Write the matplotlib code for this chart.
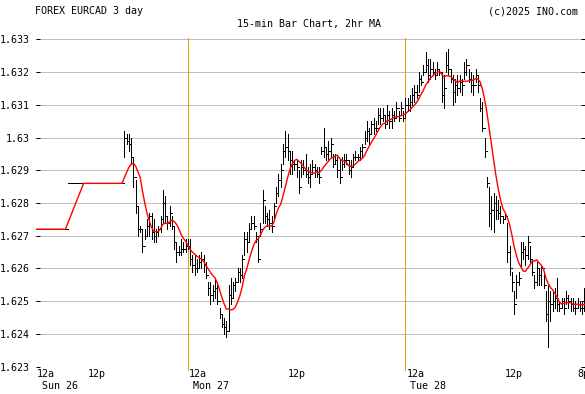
import numpy as np
import pandas as pd
import matplotlib
matplotlib.use("Agg")
import matplotlib.pyplot as plt

# flat quotes carried over before the Sunday session opens (bar 0..38)
lead_close = [1.6272] * 14 + [1.6286] * 25

# 15-min bars from the Sunday open (bar 39) to the right edge (bar 242)
high = [
    1.6302, 1.6301, 1.6301, 1.6300, 1.6294, 1.6287, 1.6279, 1.6273, 1.6272, 1.6272,
    1.6275, 1.6277, 1.6277, 1.6275, 1.6272, 1.6273, 1.6276, 1.6284, 1.6282, 1.6276,
    1.6279, 1.6276, 1.6273, 1.6268, 1.6267, 1.6269, 1.6268, 1.6269, 1.6269, 1.6269,
    1.6264, 1.6264, 1.6263, 1.6264, 1.6265, 1.6264, 1.6262, 1.6256, 1.6256, 1.6255,
    1.6257, 1.6256, 1.6248, 1.6246, 1.6245, 1.6244, 1.6255, 1.6257, 1.6256, 1.6257,
    1.6260, 1.6260, 1.6264, 1.6271, 1.6271, 1.6274, 1.6276, 1.6276, 1.6271, 1.6269,
    1.6274, 1.6284, 1.6279, 1.6277, 1.6278, 1.6276, 1.6280, 1.6285, 1.6289, 1.6292,
    1.6298, 1.6302, 1.6301, 1.6296, 1.6296, 1.6293, 1.6293, 1.6290, 1.6293, 1.6293,
    1.6295, 1.6291, 1.6292, 1.6293, 1.6292, 1.6291, 1.6291, 1.6297, 1.6303, 1.6297,
    1.6299, 1.6300, 1.6295, 1.6295, 1.6294, 1.6293, 1.6294, 1.6295, 1.6295, 1.6293,
    1.6293, 1.6295, 1.6296, 1.6295, 1.6297, 1.6298, 1.6302, 1.6305, 1.6303, 1.6305,
    1.6306, 1.6305, 1.6309, 1.6309, 1.6309, 1.6307, 1.6310, 1.6308, 1.6309, 1.6308,
    1.6311, 1.6308, 1.6311, 1.6308, 1.6312, 1.6312, 1.6313, 1.6315, 1.6316, 1.6316,
    1.6320, 1.6319, 1.6322, 1.6326, 1.6324, 1.6324, 1.6323, 1.6321, 1.6323, 1.6321,
    1.6320, 1.6319, 1.6326, 1.6327, 1.6321, 1.6319, 1.6318, 1.6319, 1.6319, 1.6318,
    1.6323, 1.6324, 1.6321, 1.6320, 1.6319, 1.6321, 1.6319, 1.6312, 1.6311, 1.6300,
    1.6288, 1.6285, 1.6282, 1.6283, 1.6282, 1.6281, 1.6279, 1.6276, 1.6277, 1.6274,
    1.6267, 1.6259, 1.6253, 1.6258, 1.6259, 1.6268, 1.6268, 1.6267, 1.6270, 1.6267,
    1.6263, 1.6258, 1.6262, 1.6260, 1.6261, 1.6259, 1.6253, 1.6255, 1.6253, 1.6253,
    1.6254, 1.6257, 1.6250, 1.6251, 1.6251, 1.6253, 1.6252, 1.6251, 1.6251, 1.6250,
    1.6251, 1.6250, 1.6250, 1.6254,
]
low = [
    1.6294, 1.6298, 1.6296, 1.6292, 1.6285, 1.6277, 1.6270, 1.6271, 1.6265, 1.6269,
    1.6270, 1.6270, 1.6269, 1.6268, 1.6268, 1.6270, 1.6271, 1.6274, 1.6274, 1.6272,
    1.6273, 1.6272, 1.6266, 1.6262, 1.6264, 1.6264, 1.6265, 1.6265, 1.6266, 1.6261,
    1.6259, 1.6258, 1.6259, 1.6260, 1.6260, 1.6259, 1.6257, 1.6252, 1.6249, 1.6250,
    1.6251, 1.6249, 1.6245, 1.6242, 1.6240, 1.6239, 1.6241, 1.6249, 1.6251, 1.6253,
    1.6256, 1.6256, 1.6257, 1.6264, 1.6265, 1.6268, 1.6272, 1.6272, 1.6268, 1.6262,
    1.6270, 1.6274, 1.6274, 1.6273, 1.6272, 1.6271, 1.6275, 1.6280, 1.6282, 1.6285,
    1.6292, 1.6294, 1.6293, 1.6289, 1.6289, 1.6290, 1.6288, 1.6283, 1.6288, 1.6289,
    1.6288, 1.6286, 1.6285, 1.6289, 1.6288, 1.6288, 1.6286, 1.6295, 1.6294, 1.6293,
    1.6293, 1.6294, 1.6291, 1.6292, 1.6288, 1.6286, 1.6290, 1.6291, 1.6292, 1.6289,
    1.6288, 1.6291, 1.6293, 1.6293, 1.6293, 1.6294, 1.6298, 1.6299, 1.6298, 1.6301,
    1.6301, 1.6302, 1.6304, 1.6304, 1.6305, 1.6303, 1.6304, 1.6303, 1.6303, 1.6305,
    1.6306, 1.6305, 1.6307, 1.6305, 1.6306, 1.6308, 1.6308, 1.6310, 1.6311, 1.6312,
    1.6314, 1.6316, 1.6319, 1.6320, 1.6317, 1.6318, 1.6319, 1.6318, 1.6319, 1.6319,
    1.6311, 1.6309, 1.6320, 1.6319, 1.6317, 1.6310, 1.6311, 1.6313, 1.6314, 1.6313,
    1.6318, 1.6319, 1.6317, 1.6314, 1.6313, 1.6317, 1.6314, 1.6308, 1.6302, 1.6294,
    1.6285, 1.6273, 1.6272, 1.6271, 1.6275, 1.6275, 1.6274, 1.6274, 1.6275, 1.6262,
    1.6258, 1.6253, 1.6246, 1.6251, 1.6255, 1.6260, 1.6263, 1.6261, 1.6263, 1.6262,
    1.6258, 1.6254, 1.6255, 1.6255, 1.6255, 1.6254, 1.6244, 1.6236, 1.6244, 1.6247,
    1.6248, 1.6247, 1.6247, 1.6248, 1.6246, 1.6249, 1.6248, 1.6247, 1.6247, 1.6246,
    1.6248, 1.6247, 1.6246, 1.6247,
]
close = [
    1.6300, 1.6299, 1.6298, 1.6294, 1.6288, 1.6279, 1.6272, 1.6272, 1.6267, 1.6270,
    1.6273, 1.6276, 1.6271, 1.6270, 1.6271, 1.6272, 1.6275, 1.6280, 1.6276, 1.6274,
    1.6277, 1.6273, 1.6268, 1.6265, 1.6265, 1.6266, 1.6266, 1.6267, 1.6267, 1.6263,
    1.6261, 1.6260, 1.6260, 1.6262, 1.6263, 1.6261, 1.6258, 1.6254, 1.6252, 1.6253,
    1.6254, 1.6250, 1.6246, 1.6243, 1.6242, 1.6241, 1.6252, 1.6251, 1.6255, 1.6256,
    1.6259, 1.6258, 1.6263, 1.6269, 1.6268, 1.6272, 1.6274, 1.6273, 1.6270, 1.6263,
    1.6272, 1.6281, 1.6276, 1.6275, 1.6274, 1.6273, 1.6279, 1.6283, 1.6287, 1.6290,
    1.6296, 1.6297, 1.6296, 1.6293, 1.6292, 1.6292, 1.6291, 1.6285, 1.6291, 1.6290,
    1.6289, 1.6288, 1.6289, 1.6291, 1.6290, 1.6289, 1.6288, 1.6296, 1.6297, 1.6295,
    1.6296, 1.6298, 1.6292, 1.6293, 1.6290, 1.6288, 1.6292, 1.6293, 1.6293, 1.6290,
    1.6291, 1.6294, 1.6294, 1.6294, 1.6296, 1.6297, 1.6300, 1.6302, 1.6301, 1.6304,
    1.6303, 1.6303, 1.6307, 1.6306, 1.6307, 1.6304, 1.6307, 1.6305, 1.6307, 1.6306,
    1.6309, 1.6306, 1.6309, 1.6306, 1.6310, 1.6310, 1.6311, 1.6313, 1.6314, 1.6313,
    1.6318, 1.6317, 1.6320, 1.6322, 1.6319, 1.6321, 1.6320, 1.6319, 1.6321, 1.6320,
    1.6313, 1.6315, 1.6322, 1.6321, 1.6318, 1.6314, 1.6316, 1.6315, 1.6317, 1.6316,
    1.6320, 1.6322, 1.6318, 1.6316, 1.6316, 1.6319, 1.6316, 1.6309, 1.6303, 1.6296,
    1.6286, 1.6277, 1.6278, 1.6280, 1.6278, 1.6277, 1.6276, 1.6275, 1.6276, 1.6265,
    1.6260, 1.6256, 1.6249, 1.6256, 1.6257, 1.6265, 1.6266, 1.6264, 1.6268, 1.6263,
    1.6259, 1.6256, 1.6260, 1.6258, 1.6260, 1.6255, 1.6246, 1.6250, 1.6249, 1.6250,
    1.6251, 1.6249, 1.6248, 1.6250, 1.6248, 1.6251, 1.6250, 1.6249, 1.6248, 1.6248,
    1.6249, 1.6248, 1.6248, 1.6252,
]

y_ticks = [1.633, 1.632, 1.631, 1.630, 1.629, 1.628, 1.627, 1.626, 1.625, 1.624, 1.623]
y_labels = ["1.633", "1.632", "1.631", "1.63", "1.629", "1.628", "1.627",
            "1.626", "1.625", "1.624", "1.623"]

# bar index of each time label
day_starts = [67, 163]
hour_ticks = [0, 27, 67, 115, 163, 211, 243]
hour_labels = ["12a", "12p", "12a", "12p", "12a", "12p", "8p"]
day_ticks = [0, 67, 163]
day_labels = ["Sun 26", "Mon 27", "Tue 28"]

FONT = "DejaVu Sans Mono"
FS = 7.2
PX = 0.72  # one pixel at 100 dpi, in points

all_close = np.array(lead_close + close)
all_high = np.array(lead_close + high)
all_low = np.array(lead_close + low)
all_open = np.r_[all_close[0], all_close[:-1]]
x = np.arange(len(all_close))
ma = pd.Series(all_close).rolling(8, min_periods=1).mean()

fig = plt.figure(figsize=(5.85, 3.94), dpi=100)
ax = fig.add_axes([36 / 585, 27.3 / 394, 549 / 585, 327.4 / 394])
ax.set_xlim(0, 242.3)
ax.set_ylim(1.623, 1.633)
for s in ax.spines.values():
    s.set_visible(False)

ax.set_yticks(y_ticks)
ax.set_yticklabels(y_labels, fontfamily=FONT, fontsize=FS)
ax.tick_params(axis="y", direction="in", length=3, width=PX, pad=4.5,
               left=True, right=True, color="black")
ax.set_xticks([])
ax.grid(axis="y", color="#c0c0c0", linewidth=PX, antialiased=False)
ax.set_axisbelow(True)

for d in day_starts:
    ax.plot([d, d], [1.6229, 1.63304], color="#e9a100", lw=PX,
            antialiased=False, clip_on=False, zorder=1)

ax.vlines(x, all_low, all_high, color="black", lw=PX, antialiased=False, zorder=2)
ax.hlines(all_open, x - 0.5, x, color="black", lw=PX, antialiased=False, zorder=2)
ax.hlines(all_close, x, x + 0.5, color="black", lw=PX, antialiased=False, zorder=2)
ax.plot(x, ma, color="#ff0000", lw=1.0, zorder=3)

for pos, lab in zip(hour_ticks, hour_labels):
    if lab == "12a":
        ha, dx = "left", 1
    else:
        ha, dx = "center", -3 if lab == "8p" else 0
    ax.annotate(lab, xy=(pos, 0), xycoords=("data", "axes fraction"),
                xytext=(dx, -7), textcoords="offset pixels", ha=ha, va="center",
                fontfamily=FONT, fontsize=FS, annotation_clip=False)
for pos, lab in zip(day_ticks, day_labels):
    ax.annotate(lab, xy=(pos, 0), xycoords=("data", "axes fraction"),
                xytext=(6 if pos == 0 else 5, -19), textcoords="offset pixels",
                ha="left", va="center", fontfamily=FONT, fontsize=FS,
                annotation_clip=False)

fig.text(35 / 585, 1 - 11 / 394, "FOREX EURCAD 3 day", ha="left", va="center",
         fontfamily=FONT, fontsize=FS)
fig.text(309 / 585, 1 - 24 / 394, "15-min Bar Chart, 2hr MA", ha="center",
         va="center", fontfamily=FONT, fontsize=FS)
fig.text(578 / 585, 1 - 11 / 394, "(c)2025 INO.com", ha="right", va="center",
         fontfamily=FONT, fontsize=FS)

fig.savefig("out.png", dpi=100)
